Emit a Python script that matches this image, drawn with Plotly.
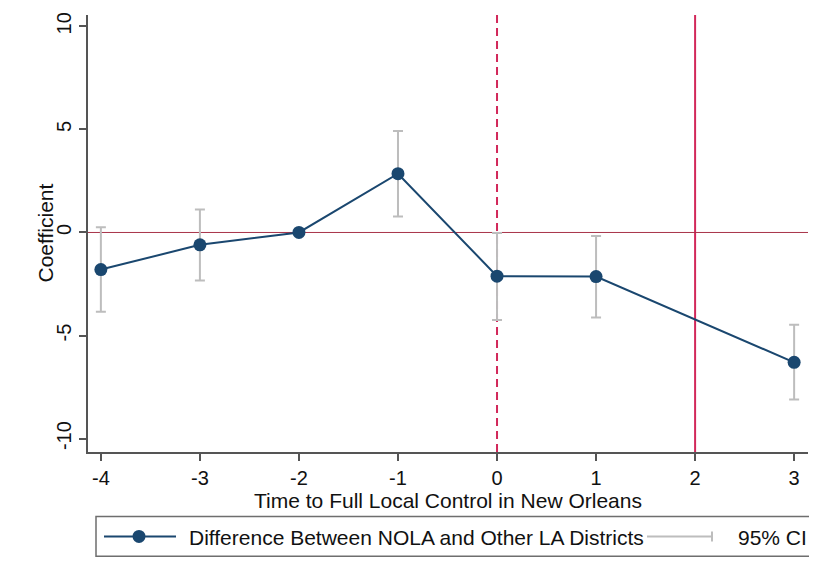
import plotly.graph_objects as go

# Data
periods = [-4, -3, -2, -1, 0, 1, 3]
coef = [-1.8, -0.6, 0.0, 2.85, -2.12, -2.14, -6.3]
ci_periods = [-4, -3, -1, 0, 1, 3]
ci_coef = [-1.8, -0.6, 2.85, -2.12, -2.14, -6.3]
ci_low = [-3.85, -2.33, 0.77, -4.25, -4.12, -8.1]
ci_high = [0.25, 1.12, 4.92, -0.02, -0.17, -4.48]
x_ticks = [-4, -3, -2, -1, 0, 1, 2, 3]
y_ticks = [-10, -5, 0, 5, 10]
event_dashed = 0
event_solid = 2

NAVY = "#1a476f"
GREY = "#bdbdbd"
CRIMSON = "#d2285a"
ZERO = "#a8344a"
FONT = "Liberation Sans, Arial, sans-serif"

fig = go.Figure()

fig.add_trace(go.Scatter(
    x=ci_periods, y=ci_coef, mode="markers",
    marker=dict(size=1, opacity=0),
    error_y=dict(type="data", symmetric=False,
                 array=[h - c for h, c in zip(ci_high, ci_coef)],
                 arrayminus=[c - l for c, l in zip(ci_coef, ci_low)],
                 color=GREY, thickness=2, width=5),
    showlegend=False, hoverinfo="skip"))

fig.add_trace(go.Scatter(
    x=periods, y=coef, mode="lines+markers",
    line=dict(color=NAVY, width=2),
    marker=dict(color=NAVY, size=13),
    showlegend=False))

# reference lines
fig.add_shape(type="line", xref="x", yref="paper", x0=event_dashed, x1=event_dashed, y0=0, y1=1,
              line=dict(color=CRIMSON, width=2, dash="8px,5px"), layer="below")
fig.add_shape(type="line", xref="x", yref="paper", x0=event_solid, x1=event_solid, y0=0, y1=1,
              line=dict(color=CRIMSON, width=2), layer="below")
fig.add_shape(type="line", xref="paper", yref="y", x0=0, x1=1, y0=0, y1=0,
              line=dict(color=ZERO, width=1), layer="below")

# manual legend (screen px -> paper; plot area 88..808 x 12..452 on screen)
W, H, L, T = 720.0, 440.0, 88.0, 12.0
def px(xp): return (xp - L) / W
def py(yp): return (T + H - yp) / H

fig.add_shape(type="rect", xref="paper", yref="paper",
              x0=px(96), x1=px(810), y0=py(517), y1=py(557),
              line=dict(color="#6e6e6e", width=1.5), fillcolor="white")
fig.add_shape(type="line", xref="paper", yref="paper",
              x0=px(104), x1=px(176), y0=py(537), y1=py(537),
              line=dict(color=NAVY, width=2))
fig.add_shape(type="circle", xref="paper", yref="paper",
              xsizemode="pixel", ysizemode="pixel",
              xanchor=px(139), yanchor=py(537), x0=-6.5, x1=6.5, y0=-6.5, y1=6.5,
              line=dict(color=NAVY, width=0), fillcolor=NAVY)
fig.add_shape(type="line", xref="paper", yref="paper",
              x0=px(647), x1=px(712), y0=py(537), y1=py(537),
              line=dict(color=GREY, width=2))
fig.add_shape(type="line", xref="paper", yref="paper",
              x0=px(712), x1=px(712), y0=py(532), y1=py(542),
              line=dict(color=GREY, width=2))
fig.add_annotation(xref="paper", yref="paper", x=px(187), y=py(538),
                   text="Difference Between NOLA and Other LA Districts",
                   showarrow=False, xanchor="left", yanchor="middle",
                   font=dict(family=FONT, size=21, color="#111"))
fig.add_annotation(xref="paper", yref="paper", x=px(736), y=py(538),
                   text="95% CI", showarrow=False, xanchor="left", yanchor="middle",
                   font=dict(family=FONT, size=21, color="#111"))
# y-axis title placed like the reference
fig.add_annotation(xref="paper", yref="paper", x=px(45), y=py(232),
                   text="Coefficient", textangle=-90, showarrow=False,
                   xanchor="center", yanchor="middle",
                   font=dict(family=FONT, size=21, color="#111"))

fig.update_layout(
    width=817, height=578,
    margin=dict(l=80, r=17, t=4, b=134),
    paper_bgcolor="white", plot_bgcolor="white",
    font=dict(family=FONT, size=20, color="#111"),
    showlegend=False,
    xaxis=dict(range=[-4.13, 3.14], tickvals=x_ticks, ticktext=[str(v) for v in x_ticks],
               showgrid=False, zeroline=False, showline=True, linecolor="#555", linewidth=1.5,
               ticks="outside", ticklen=7, tickcolor="#555", tickwidth=1.5,
               tickfont=dict(size=20),
               title=dict(text="Time to Full Local Control in New Orleans", standoff=0,
                          font=dict(size=21))),
    yaxis=dict(range=[-10.65, 10.55], tickvals=y_ticks, ticktext=[str(v) for v in y_ticks],
               showgrid=False, zeroline=False, showline=True, linecolor="#555", linewidth=1.5,
               ticks="outside", ticklen=7, tickcolor="#555", tickwidth=1.5,
               tickangle=-90, tickfont=dict(size=20)),
)

fig.write_html("out.html")
